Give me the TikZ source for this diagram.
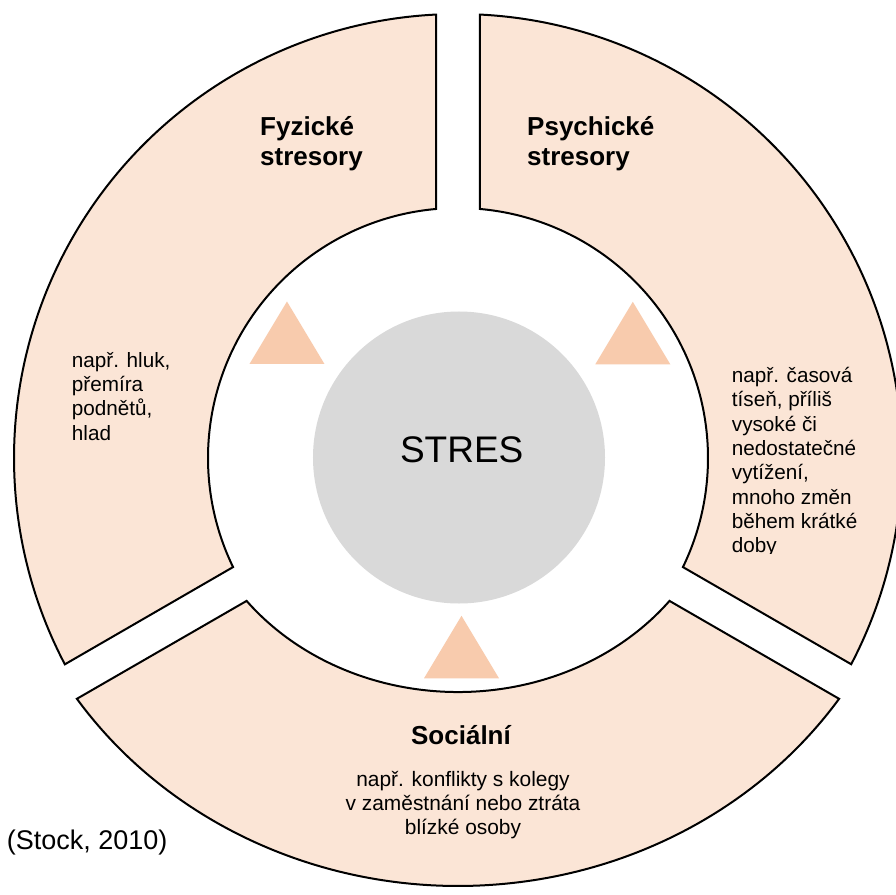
\documentclass[tikz,border=0pt]{standalone}
\usepackage{fontspec}
\setmainfont{Liberation Sans}
\definecolor{segfill}{HTML}{FBE5D6}
\definecolor{trifill}{HTML}{F8CBAD}
\definecolor{hubfill}{HTML}{D9D9D9}
\newcommand\myTitle{\fontsize{26}{30}\selectfont\bfseries}
\newcommand\myBody{\fontsize{20.7}{24.3}\selectfont}
\begin{document}
\begin{tikzpicture}[x=1pt,y=1pt,
  seg/.style={fill=segfill,draw=black,line width=2pt,line join=miter},
  tri/.style={fill=trifill},
  hub/.style={circle,fill=hubfill,minimum size=292pt,inner sep=0pt},
  lbl/.style={inner sep=0pt}]
\clip (-458,-436) rectangle (438,458);
\fill[white] (-458,-436) rectangle (438,458);
% left segment (Fyzicke)
\draw[seg] ({90+asin(22/444)}:444)
  arc[start angle={90+asin(22/444)}, end angle={210-asin(18/447)}, radius=444]
  -- ({210-asin(18/250)}:250)
  arc[start angle={210-asin(18/250)}, end angle={90+asin(22/250)}, radius=250]
  -- cycle;
% right segment (Psychicke)
\draw[seg] ({90-asin(22/444)}:444)
  arc[start angle={90-asin(22/444)}, end angle={-30+asin(18/444)}, radius=444]
  -- ({-30+asin(18/250)}:250)
  arc[start angle={-30+asin(18/250)}, end angle={90-asin(22/250)}, radius=250]
  -- cycle;
% bottom segment (Socialni)
\draw[seg] (-381.1,-240.8)
  arc[start angle=214.24, end angle=325.76, x radius=461, y radius=428]
  -- (211.5,-142.9)
  arc[start angle=322.37, end angle=217.63, x radius=267, y radius=234]
  -- cycle;
% hub
\node[hub] (hub) at (1,0.5) {};
\node[lbl,anchor=base,font=\fontsize{37}{44}\selectfont] (stres) at (3.7,-4.7) {STRES};
% triangles
\coordinate (tl) at (-171,94);
\coordinate (tr) at (174.8,93.7);
\coordinate (tb) at (3.5,-220.3);
\foreach \c in {tl,tr,tb}
  \fill[tri] (\c) ++(-37.5,0) -- ++(75,0) -- ++(-37.5,62.5) -- cycle;
% titles
\node[lbl,anchor=base west] (fyz) at (-198,322)
  {\myTitle\begin{tabular}[t]{@{}l@{}}Fyzické\\stresory\end{tabular}};
\node[lbl,anchor=base west] (psy) at (69,322)
  {\myTitle\begin{tabular}[t]{@{}l@{}}Psychické\\stresory\end{tabular}};
\node[lbl,anchor=base] (soc) at (3,-286.3) {\myTitle Sociální};
% bodies
\node[lbl,anchor=base west] (fyzb) at (-386.3,90.7)
  {\myBody\begin{tabular}[t]{@{}l@{}}např. hluk,\\přemíra\\podnětů,\\hlad\end{tabular}};
\begin{scope}
\clip (250,-95) rectangle (438,120);
\node[lbl,anchor=base west] (psyb) at (273.7,75.3)
  {\myBody\begin{tabular}[t]{@{}l@{}}např. časová\\tíseň, příliš\\vysoké či\\nedostatečné\\vytížení,\\mnoho změn\\během krátké\\doby\end{tabular}};
\end{scope}
\node[lbl,anchor=base] (socb) at (5,-328)
  {\fontsize{20.9}{24.2}\selectfont\begin{tabular}[t]{@{}c@{}}např. konflikty s kolegy\\v zaměstnání nebo ztráta\\blízké osoby\end{tabular}};
% source
\node[lbl,anchor=base west,font=\fontsize{27}{32}\selectfont] (src) at (-451.3,-391.3) {(Stock, 2010)};
\end{tikzpicture}
\end{document}
